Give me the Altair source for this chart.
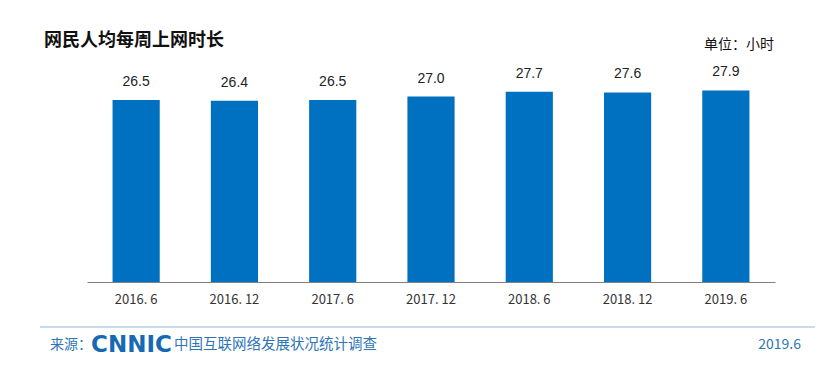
import altair as alt
import pandas as pd

periods = ["2016. 6", "2016. 12", "2017. 6", "2017. 12", "2018. 6", "2018. 12", "2019. 6"]
hours = [26.5, 26.4, 26.5, 27.0, 27.7, 27.6, 27.9]

df = pd.DataFrame({"period": periods, "hours": hours})

W, H = 688, 206
LEFT, TOP = 87, 76
RIGHT, BOTTOM = 831 - LEFT - W, 365 - TOP - H
CJK = "Noto Sans CJK SC"

x_enc = alt.X("period:N", sort=periods,
              scale=alt.Scale(paddingInner=0.52, paddingOuter=0.26),
              axis=alt.Axis(title=None, labelAngle=0, labelFont=CJK, labelFontSize=13,
                            labelColor="#333333", ticks=False, domainColor="#808080",
                            domainWidth=1, labelPadding=11))
y_enc = alt.Y("hours:Q", scale=alt.Scale(domain=[0, 30]), axis=None)

base = alt.Chart(df)
bars = base.mark_bar(color="#0070C0").encode(x=x_enc, y=y_enc)
labels = base.mark_text(dy=-11, baseline="bottom", font="Liberation Sans", fontSize=14,
                        color="#222222").encode(x=x_enc, y=y_enc, text=alt.Text("hours:Q", format=".1f"))

ann = alt.Chart(pd.DataFrame({"a": [0]}))
title = ann.mark_text(text="网民人均每周上网时长", font=CJK, fontSize=18, fontWeight="bold",
                      align="left", baseline="middle", color="#111111").encode(
    x=alt.value(44 - LEFT), y=alt.value(41 - TOP))
unit = ann.mark_text(text="单位：小时", font=CJK, fontSize=14, align="left", baseline="middle",
                     color="#111111").encode(x=alt.value(704 - LEFT), y=alt.value(45 - TOP))
rule = ann.mark_rule(color="#8fb8e0", strokeWidth=1.2).encode(
    x=alt.value(40 - LEFT), x2=alt.value(815 - LEFT), y=alt.value(327 - TOP))
src = ann.mark_text(text="来源：", font=CJK, fontSize=14, align="left", baseline="middle",
                    color="#2e75b6").encode(x=alt.value(50 - LEFT), y=alt.value(345 - TOP))
logo = ann.mark_text(text="CNNIC", font="DejaVu Sans", fontSize=23, fontWeight="bold",
                     align="left", baseline="middle", color="#1769b3").encode(
    x=alt.value(91 - LEFT), y=alt.value(345 - TOP))
survey = ann.mark_text(text="中国互联网络发展状况统计调查", font=CJK, fontSize=14.5, align="left",
                       baseline="middle", color="#2e75b6").encode(
    x=alt.value(174 - LEFT), y=alt.value(345 - TOP))
date = ann.mark_text(text="2019.6", font=CJK, fontSize=14, align="right", baseline="middle",
                     color="#2e75b6").encode(x=alt.value(801 - LEFT), y=alt.value(345 - TOP))

chart = alt.layer(bars, labels, title, unit, rule, src, logo, survey, date).properties(
    width=W, height=H,
    padding={"left": LEFT, "top": TOP, "right": RIGHT, "bottom": BOTTOM},
    autosize=alt.AutoSizeParams(type="none"),
    background="white",
).configure_view(stroke=None)

chart.save("out.html", embed_options={"renderer": "svg", "actions": False})
